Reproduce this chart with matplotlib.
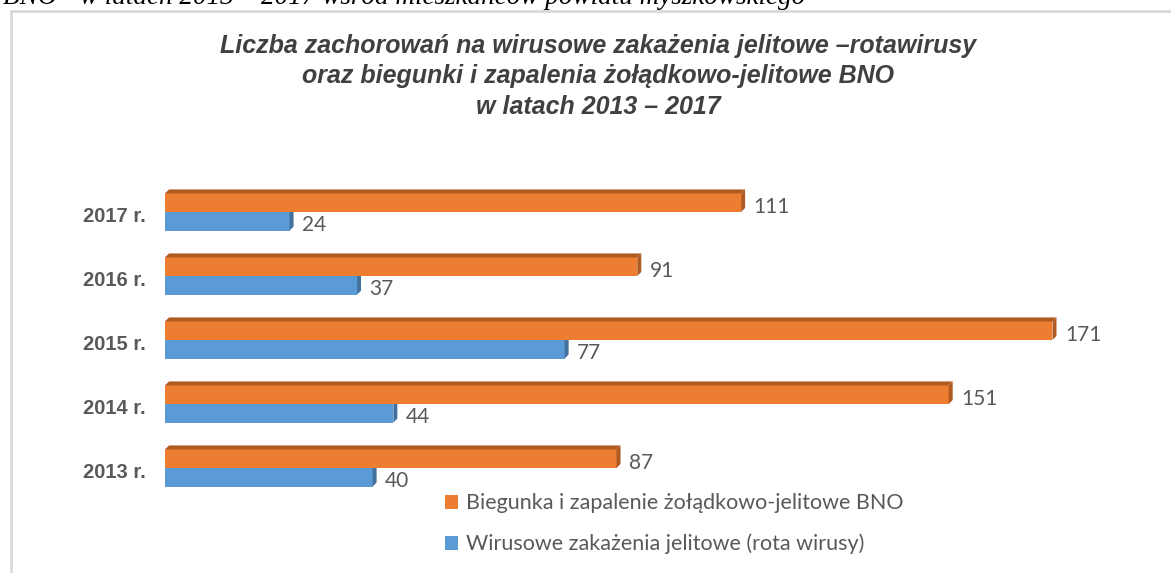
import matplotlib.pyplot as plt
from matplotlib.patches import Polygon, Rectangle
import numpy as np

# data
years = ['2013 r.', '2014 r.', '2015 r.', '2016 r.', '2017 r.']
bno = [87, 151, 171, 91, 111]
rota = [40, 44, 77, 37, 24]
bno_label = 'Biegunka i zapalenie żołądkowo-jelitowe BNO'
rota_label = 'Wirusowe zakażenia jelitowe (rota wirusy)'

title = ('Liczba zachorowań na wirusowe zakażenia jelitowe –rotawirusy\n'
         'oraz biegunki i zapalenia żołądkowo-jelitowe BNO\n'
         'w latach 2013 – 2017')
caption = 'BNO - w latach 2013 – 2017 wśród mieszkańców powiatu myszkowskiego'

# colours (front, top/side shading)
orange, orange_dark = '#ED7D31', '#AE5A21'
blue, blue_dark = '#5B9BD5', '#41719C'
grey = '#595959'

W, H = 1171, 573
fig = plt.figure(figsize=(W / 100, H / 100), dpi=100)

# chart frame (cut off on right and bottom)
fig.patches.append(Rectangle((11 / W, -0.1), 1.2, 1.1 - 11 / H, transform=fig.transFigure,
                             fill=False, edgecolor='#D9D9D9', linewidth=2))

# caption of the document, top half cut off by the page edge
fig.text(3 / W, 1 - 4 / H, caption, fontsize=19.5, family='Liberation Serif',
         style='italic', va='baseline', ha='left', color='black')

fig.text(598 / W, 1 - 34 / H, title, fontsize=18, family='Liberation Sans',
         weight='bold', style='italic', color='#404040', ha='center', va='top',
         linespacing=1.33)

ax = fig.add_axes([165 / W, 73 / H, 1000 / W, 320 / H])
xmax = 1000 / 5.19
ax.set_xlim(0, xmax)
ax.set_ylim(-0.5, 4.5)
ax.axis('off')

y = np.arange(len(years))
h = 0.29
dx = 4 / 5.19      # depth in x units (~4px)
dy = 4 / 64        # depth in y units (~4px)


def bar3d(yc, v, front, dark, z):
    bot, top = yc - h / 2, yc + h / 2
    ax.add_patch(Rectangle((0, bot), v, h, facecolor=front, edgecolor='none', zorder=z))
    ax.add_patch(Polygon([(0, top), (dx, top + dy), (v + dx, top + dy), (v, top)],
                         facecolor=dark, edgecolor='none', zorder=z))
    ax.add_patch(Polygon([(v, bot), (v, top), (v + dx, top + dy), (v + dx, bot + dy)],
                         facecolor=dark, edgecolor='none', zorder=z))


for i in range(len(years)):
    bar3d(y[i] - h / 2, rota[i], blue, blue_dark, 2)
    bar3d(y[i] + h / 2, bno[i], orange, orange_dark, 3)
    ax.annotate(str(bno[i]), (bno[i] + dx, y[i] + h / 2), xytext=(6, -3),
                textcoords='offset points', va='center', ha='left',
                fontsize=15, family='Lato', color=grey)
    ax.annotate(str(rota[i]), (rota[i] + dx, y[i] - h / 2), xytext=(6, -3),
                textcoords='offset points', va='center', ha='left',
                fontsize=15, family='Lato', color=grey)
    ax.annotate(years[i], (0, y[i]), xytext=(-14, -3), textcoords='offset points',
                va='center', ha='right', fontsize=14.5, family='Liberation Sans',
                weight='bold', color=grey)

# legend
handles = [Rectangle((0, 0), 1, 1, facecolor=orange), Rectangle((0, 0), 1, 1, facecolor=blue)]
fig.legend(handles, [bno_label, rota_label], loc='upper left',
           bbox_to_anchor=(426 / W, 1 - 474 / H), frameon=False,
           prop={'family': 'Lato', 'size': 15.5}, labelcolor=grey,
           handlelength=0.6, handleheight=0.6, handletextpad=0.35,
           labelspacing=0.95)

fig.savefig('out.png', dpi=100)
